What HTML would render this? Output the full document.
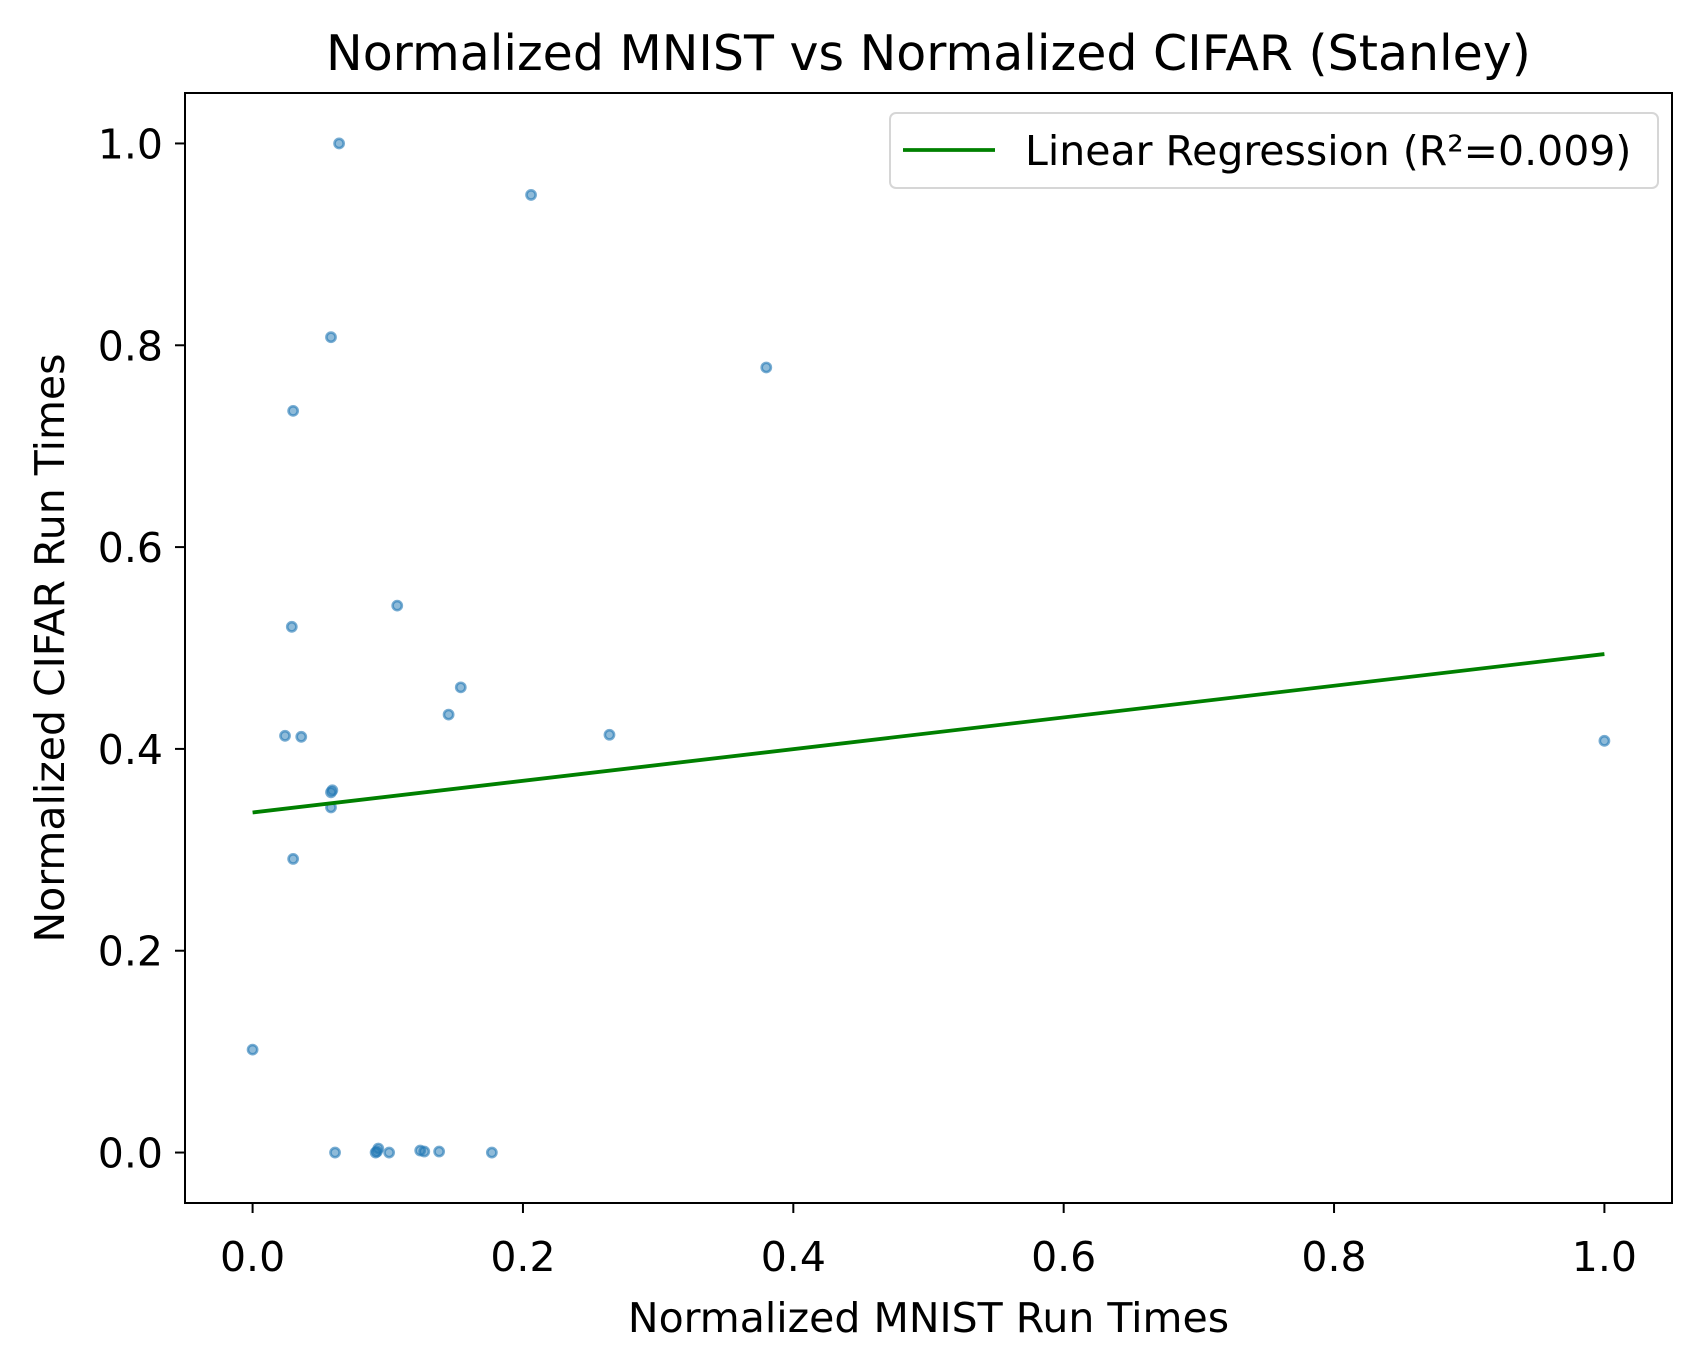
<!DOCTYPE html>
<html><head><meta charset="utf-8"><style>body{margin:0;background:#fff}svg{display:block}text{font-family:"DejaVu Sans","Liberation Sans",sans-serif}</style></head>
<body>
<svg id="c" width="1702" height="1361"></svg>
<script>
const xs=[0.064,0.206,0.058,0.380,0.030,0.107,0.029,0.154,0.145,0.024,0.036,0.264,1.0,0.059,0.058,0.058,0.030,0.0,0.061,0.091,0.093,0.101,0.124,0.127,0.138,0.177,0.092];
const ys=[1.0,0.949,0.808,0.778,0.735,0.542,0.521,0.461,0.434,0.413,0.412,0.414,0.408,0.359,0.357,0.342,0.291,0.102,0.0,0.0,0.004,0.0,0.002,0.001,0.001,0.0,0.001];
const lineX=[0,1];
const lineY=[0.337,0.494];
const xTicks=[0,0.2,0.4,0.6,0.8,1.0];
const yTicks=[0,0.2,0.4,0.6,0.8,1.0];
const L=185,R=1672,T=93,B=1203;
const X=v=>L+(v+0.05)/1.1*(R-L);
const Y=v=>B-(v+0.05)/1.1*(B-T);
const svg=document.getElementById('c');
const NS='http://www.w3.org/2000/svg';
function mk(t,a,p){const e=document.createElementNS(NS,t);for(const k in a)e.setAttribute(k,a[k]);(p||svg).appendChild(e);return e;}
let e;
e=mk('text',{x:(L+R)/2,y:70,'font-size':49,'text-anchor':'middle'});e.textContent='Normalized MNIST vs Normalized CIFAR (Stanley)';


xTicks.forEach(v=>{
 e=mk('line',{x1:X(v),x2:X(v),y1:B,y2:B+10,stroke:'#000','stroke-width':2});
 
 
 e=mk('text',{x:X(v),y:B+68,'font-size':41,'text-anchor':'middle'});e.textContent=v.toFixed(1);
 
 
});
yTicks.forEach(v=>{
 e=mk('line',{x1:L-10,x2:L,y1:Y(v),y2:Y(v),stroke:'#000','stroke-width':2});
 
 
 e=mk('text',{x:L-22,y:Y(v)+15,'font-size':41,'text-anchor':'end'});e.textContent=v.toFixed(1);
 
 
});
e=mk('text',{x:(L+R)/2,y:1332,'font-size':41,'text-anchor':'middle'});e.textContent='Normalized MNIST Run Times';


e=mk('text',{x:0,y:0,'font-size':41,'text-anchor':'middle',transform:`translate(64,${(T+B)/2}) rotate(-90)`});e.textContent='Normalized CIFAR Run Times';


xs.forEach((v,i)=>{
 e=mk('circle',{cx:X(v),cy:Y(ys[i]),r:4.6,fill:'#1f77b4','fill-opacity':0.5,stroke:'#1f77b4','stroke-opacity':0.6,'stroke-width':2.6});
 
 
});
e=mk('line',{x1:X(lineX[0]),y1:Y(lineY[0]),x2:X(lineX[1]),y2:Y(lineY[1]),stroke:'#008000','stroke-width':3.8});


e=mk('rect',{x:L,y:T,width:R-L,height:B-T,fill:'none',stroke:'#000','stroke-width':2});


const g=mk('g',{});


mk('rect',{x:890,y:113,width:768,height:75,rx:6,fill:'#fff','fill-opacity':0.8,stroke:'#d6d6d6','stroke-width':2},g);
mk('line',{x1:903,x2:995,y1:150,y2:150,stroke:'#008000','stroke-width':3.8},g);
e=mk('text',{x:1025,y:165,'font-size':41},g);e.textContent='Linear Regression (R²=0.009)';


</script>
</body></html>
